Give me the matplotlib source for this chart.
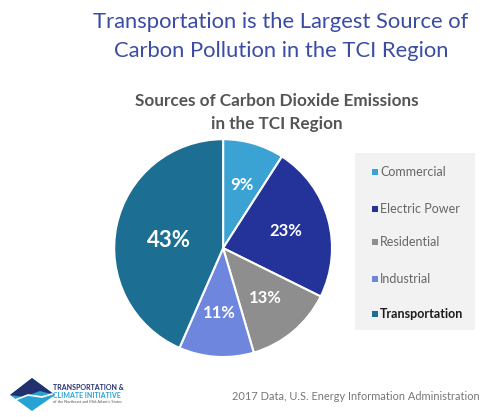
import matplotlib.pyplot as plt
from matplotlib.patches import Polygon, Rectangle

sectors = ['Commercial', 'Electric Power', 'Residential', 'Industrial', 'Transportation']
shares = [9, 23, 13, 11, 43]
colors = ['#3aa3d4', '#24339a', '#8e8e8e', '#6f86de', '#1c6f93']

plt.rcParams['font.family'] = ['Lato', 'DejaVu Sans']

fig = plt.figure(figsize=(4.86, 4.17), dpi=100)
fig.patch.set_facecolor('white')

# Titles
fig.text(0.578, 0.948, 'Transportation is the Largest Source of', ha='center', va='center',
         fontsize=15.8, color='#3b4ca5')
fig.text(0.578, 0.878, 'Carbon Pollution in the TCI Region', ha='center', va='center',
         fontsize=15.8, color='#3b4ca5')
fig.text(0.57, 0.758, 'Sources of Carbon Dioxide Emissions', ha='center', va='center',
         fontsize=12.3, color='#555555', fontweight='bold')
fig.text(0.57, 0.703, 'in the TCI Region', ha='center', va='center',
         fontsize=12.3, color='#555555', fontweight='bold')

# Pie
ax = fig.add_axes([0.459 - 0.2263, 0.405 - 0.2638, 0.4527, 0.5276])
wedges, texts, autotexts = ax.pie(shares, colors=colors, startangle=90, counterclock=False,
                                  autopct='%.0f%%', pctdistance=0.6,
                                  wedgeprops=dict(edgecolor='white', linewidth=1.5),
                                  textprops=dict(color='white', fontweight='bold', fontsize=12))
for t, v in zip(autotexts, shares):
    t.set_text(f'{v}%')
autotexts[-1].set_fontsize(16)
x, y = autotexts[-1].get_position()
autotexts[-1].set_position((x * 0.85, y - 0.05))
ax.set_xlim(-1.01, 1.01)
ax.set_ylim(-1.01, 1.01)
ax.set_aspect('equal')

# Legend box
lax = fig.add_axes([355 / 486, 1 - 330 / 417, 120 / 486, 177 / 417])
lax.set_xlim(0, 120)
lax.set_ylim(177, 0)
lax.axis('off')
lax.add_patch(Rectangle((0, 0), 120, 177, facecolor='#f2f2f2', edgecolor='none'))
ys = [19, 56, 89, 126, 161]
for yy, name, c in zip(ys, sectors, colors):
    lax.add_patch(Rectangle((17, yy - 3), 6, 6, facecolor=c, edgecolor='none'))
    lax.text(25, yy, name, va='center', ha='left', fontsize=9,
             color='#1c1c1c' if name == 'Transportation' else '#666666',
             fontweight='bold' if name == 'Transportation' else 'normal')

# Source note
fig.text(0.477, 0.048, '2017 Data, U.S. Energy Information Administration', ha='left', va='center',
         fontsize=7.9, color='#777777')

# Logo
gax = fig.add_axes([0, 0, 1, 1], zorder=-1)
gax.set_xlim(0, 486)
gax.set_ylim(417, 0)
gax.axis('off')
gax.add_patch(Polygon([[10, 395], [32, 378], [55, 395], [32, 411]], closed=True,
                      facecolor='#26a3d4', edgecolor='none'))
gax.add_patch(Polygon([[10, 395], [32, 378], [55, 395], [40, 391], [24, 397]], closed=True,
                      facecolor='#23306f', edgecolor='none'))
gax.plot([15, 28, 42, 52], [400, 395, 397, 394], color='white', lw=1.2)
gax.text(53, 388, 'TRANSPORTATION &', fontsize=5, fontweight='bold', color='#23306f', va='center')
gax.text(53, 395, 'CLIMATE INITIATIVE', fontsize=5, fontweight='bold', color='#26a3d4', va='center')
gax.text(53, 402, 'of the Northeast and Mid-Atlantic States', fontsize=2.8, color='#555555', va='center')

fig.savefig('out.png', dpi=100)
